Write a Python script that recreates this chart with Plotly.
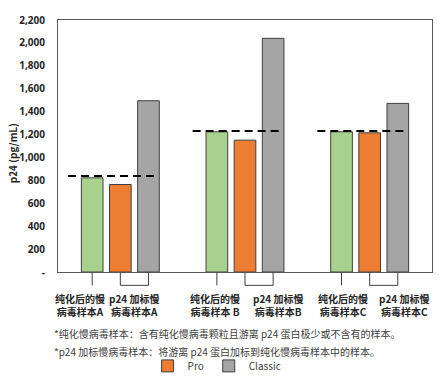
import plotly.graph_objects as go

# ---- data ----
categories = ["样本A", "样本B", "样本C"]
purified = [822, 1224, 1224]      # green bars (no legend)
pro = [764, 1151, 1215]           # orange
classic = [1495, 2040, 1472]      # gray
reference = [839, 1232, 1230]     # dashed reference line
y_tickvals = [0, 200, 400, 600, 800, 1000, 1200, 1400, 1600, 1800, 2000, 2200]
y_ticktext = ["-", "200", "400", "600", "800", "1,000", "1,200", "1,400",
              "1,600", "1,800", "2,000", "2,200"]
left_labels = ["纯化后的慢<br>病毒样本A", "纯化后的慢<br>病毒样本 B", "纯化后的慢<br>病毒样本C"]
right_labels = ["p24 加标慢<br>病毒样本A", "p24 加标慢<br>病毒样本B", "p24 加标慢<br>病毒样本C"]
footnotes = ["*纯化慢病毒样本：含有纯化慢病毒颗粒且游离 p24 蛋白极少或不含有的样本。",
             "*p24 加标慢病毒样本：将游离 p24 蛋白加标到纯化慢病毒样本中的样本。"]

# ---- layout constants ----
BARGAP = 0.323
GROUPGAP = 0.23
SLOT = (1 - BARGAP) / 3
left_label_off = [-0.32, -0.24, -0.21]
right_label_off = [0.11, 0.27, 0.28]
FONT = "Noto Sans CJK SC"
TXT = "#262626"
EDGE = "#404040"

fig = go.Figure()
fig.add_bar(x=categories, y=purified, name="纯化", showlegend=False,
            marker=dict(color="#A9D18E", line=dict(color=EDGE, width=1)))
fig.add_bar(x=categories, y=pro, name="Pro",
            marker=dict(color="#ED7D31", line=dict(color=EDGE, width=1)))
fig.add_bar(x=categories, y=classic, name="Classic",
            marker=dict(color="#A5A5A5", line=dict(color=EDGE, width=1)))

shapes = []
annotations = []
BR_Y = -0.053
for i, v in enumerate(reference):
    shapes.append(dict(type="line", xref="x", yref="y", x0=i - 0.42, x1=i + 0.30,
                       y0=v, y1=v, line=dict(color="black", width=2, dash="8px,5px")))
    shapes.append(dict(type="line", xref="x", yref="paper", x0=i - SLOT, x1=i - SLOT,
                       y0=0, y1=BR_Y, line=dict(color=EDGE, width=1)))
    shapes.append(dict(type="path", xref="x", yref="paper",
                       path=f"M {i} 0 L {i} {BR_Y} L {i + SLOT} {BR_Y} L {i + SLOT} 0",
                       line=dict(color=EDGE, width=1)))
    annotations.append(dict(text=f"<b>{left_labels[i]}</b>", xref="x", yref="paper",
                            x=i + left_label_off[i], y=-0.068, xanchor="center", yanchor="top",
                            showarrow=False, align="center",
                            font=dict(family=FONT, size=10, color=TXT)))
    annotations.append(dict(text=f"<b>{right_labels[i]}</b>", xref="x", yref="paper",
                            x=i + right_label_off[i], y=-0.068, xanchor="center", yanchor="top",
                            showarrow=False, align="center",
                            font=dict(family=FONT, size=10, color=TXT)))

for k, t in enumerate(footnotes):
    annotations.append(dict(text=t, xref="paper", yref="paper", x=-0.015,
                            y=-0.243 - k * 0.072, xanchor="left", yanchor="middle",
                            showarrow=False, font=dict(family=FONT, size=10, color="#404040")))

annotations.append(dict(text="<b>p24 (pg/mL)</b>", xref="paper", yref="paper",
                        x=-0.121, y=0.47, textangle=-90, showarrow=False,
                        xanchor="center", yanchor="middle",
                        font=dict(family=FONT, size=10, color=TXT)))

fig.update_layout(
    width=443, height=378,
    margin=dict(l=58, r=11, t=20, b=106),
    paper_bgcolor="white", plot_bgcolor="white",
    barmode="group", bargap=BARGAP, bargroupgap=GROUPGAP,
    shapes=shapes, annotations=annotations,
    legend=dict(orientation="h", xref="container", yref="container",
                x=0.49, xanchor="center", y=0.032, yanchor="middle",
                font=dict(family=FONT, size=10, color="#404040"),
                itemwidth=30, tracegroupgap=0, bgcolor="rgba(0,0,0,0)"),
    showlegend=True,
)
fig.update_xaxes(range=[-0.5, 2.5], autorange=False, showticklabels=False, ticks="",
                 showline=True, mirror=True, linecolor="#595959", linewidth=1,
                 showgrid=False, automargin=False)
fig.update_yaxes(range=[0, 2200], tickvals=y_tickvals, ticktext=y_ticktext,
                 ticks="", showline=True, mirror=True, linecolor="#595959", linewidth=1,
                 showgrid=False, zeroline=False, ticklabelstandoff=10, automargin=False,
                 tickfont=dict(family="Noto Sans", size=10, color=TXT, weight="bold"))

fig.write_html("out.html", post_script="document.body.style.margin='0';",
               config={"displayModeBar": False})
